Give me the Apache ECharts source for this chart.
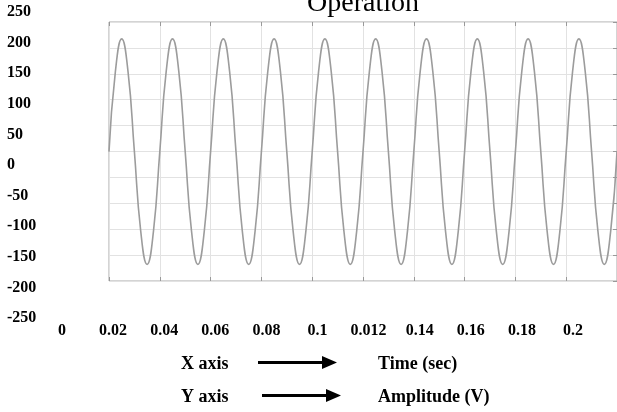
<!DOCTYPE html>
<html><head><meta charset="utf-8">
<script src="https://cdn.jsdelivr.net/npm/echarts@6/dist/echarts.min.js"></script>
<style>html,body{margin:0;padding:0;background:#fff}#c{width:617px;height:412px}</style>
</head><body><div id="c"></div>
<script>
const titleText = 'Operation';
const xTickLabels = ['0','0.02','0.04','0.06','0.08','0.1','0.012','0.14','0.16','0.18','0.2'];
const yTickValues = [-250,-200,-150,-100,-50,0,50,100,150,200,250];
const time = [
 0.02,0.0225,0.025,0.0275,0.03,0.0325,0.035,0.0375,
 0.04,0.0425,0.045,0.0475,0.05,0.0525,0.055,0.0575,
 0.06,0.0625,0.065,0.0675,0.07,0.0725,0.075,0.0775,
 0.08,0.0825,0.085,0.0875,0.09,0.0925,0.095,0.0975,
 0.1,0.1025,0.105,0.1075,0.11,0.1125,0.115,0.1175,
 0.12,0.1225,0.125,0.1275,0.13,0.1325,0.135,0.1375,
 0.14,0.1425,0.145,0.1475,0.15,0.1525,0.155,0.1575,
 0.16,0.1625,0.165,0.1675,0.17,0.1725,0.175,0.1775,
 0.18,0.1825,0.185,0.1875,0.19,0.1925,0.195,0.1975,
 0.2,0.2025,0.205,0.2075,0.21,0.2125,0.215,0.2175,
 0.22
];
const amplitude = [
 22,152,206,152,22,-108,-162,-108,
 22,152,206,152,22,-108,-162,-108,
 22,152,206,152,22,-108,-162,-108,
 22,152,206,152,22,-108,-162,-108,
 22,152,206,152,22,-108,-162,-108,
 22,152,206,152,22,-108,-162,-108,
 22,152,206,152,22,-108,-162,-108,
 22,152,206,152,22,-108,-162,-108,
 22,152,206,152,22,-108,-162,-108,
 22,152,206,152,22,-108,-162,-108,
 22
];
const noteRows = [['X axis','Time (sec)'],['Y axis','Amplitude (V)']];

const serif = '"Liberation Serif","Times New Roman",serif';
const chart = echarts.init(document.getElementById('c'), null, {renderer:'canvas'});

const noteY = [364, 397];
const graphics = [];
noteRows.forEach((row, i) => {
  const y = noteY[i];
  graphics.push({type:'text', x:181, y:y, style:{text:row[0], font:'bold 18px ' + serif, fill:'#000', align:'left', verticalAlign:'middle'}});
  graphics.push({type:'text', x:378, y:y, style:{text:row[1], font:'bold 18px ' + serif, fill:'#000', align:'left', verticalAlign:'middle'}});
  const x0 = i === 0 ? 258 : 262;
  const ay = i === 0 ? 362.5 : 395.5;
  graphics.push({type:'line', shape:{x1:x0, y1:ay, x2:x0+66, y2:ay}, style:{stroke:'#000', lineWidth:3}});
  graphics.push({type:'polygon', shape:{points:[[x0+64,ay-6.5],[x0+79,ay],[x0+64,ay+6.5]]}, style:{fill:'#000'}});
});

chart.setOption({
  backgroundColor:'#fff',
  animation:false,
  title:{text:titleText, left:307, top:-10, padding:0,
    textStyle:{fontFamily:serif, fontSize:28, fontWeight:'normal', color:'#000'}},
  grid:[
    {left:62, top:12, width:511, height:306, show:false},
    {left:109, top:22, width:512, height:259, show:true, borderColor:'#a8a8a8', borderWidth:1, backgroundColor:'#fff', z:0}
  ],
  xAxis:[
    {gridIndex:0, type:'value', min:0, max:0.2, interval:0.02,
      axisLine:{show:false, onZero:false}, axisTick:{show:false}, splitLine:{show:false},
      axisLabel:{margin:5, color:'#000', fontFamily:serif, fontWeight:'bold', fontSize:16,
        formatter:(v)=>xTickLabels[Math.round(v/0.02)]}},
    {gridIndex:1, type:'value', min:0.02, max:0.22, interval:0.02,
      axisLine:{show:false, onZero:false}, axisLabel:{show:false},
      axisTick:{show:true, inside:true, length:4, lineStyle:{color:'#999'}},
      splitLine:{show:true, lineStyle:{color:'#e2e2e2', width:1}}},
    {gridIndex:1, type:'value', position:'top', min:0.02, max:0.22, interval:0.02,
      axisLine:{show:false, onZero:false}, axisLabel:{show:false}, splitLine:{show:false},
      axisTick:{show:true, inside:true, length:4, lineStyle:{color:'#999'}}}
  ],
  yAxis:[
    {gridIndex:0, type:'value', min:yTickValues[0], max:yTickValues[yTickValues.length-1], interval:50,
      axisLine:{show:false, onZero:false}, axisTick:{show:false}, splitLine:{show:false},
      axisLabel:{align:'left', margin:55, color:'#000', fontFamily:serif, fontWeight:'bold', fontSize:16}},
    {gridIndex:1, type:'value', min:-189.1, max:233.5, show:false, axisLine:{onZero:false}, splitLine:{show:false}},
    {gridIndex:1, type:'value', min:0, max:10, interval:1,
      axisLine:{show:false, onZero:false}, axisLabel:{show:false},
      axisTick:{show:true, inside:true, length:4, lineStyle:{color:'#999'}},
      splitLine:{show:true, lineStyle:{color:'#e2e2e2', width:1}}}
  ],
  series:[{
    type:'line', xAxisIndex:1, yAxisIndex:1,
    data: time.map((t,i)=>[t, amplitude[i]]),
    smooth:0.5, showSymbol:false, symbol:'none',
    lineStyle:{color:'#9c9c9c', width:1.6},
    clip:true
  }],
  graphic: graphics
});
</script></body></html>
